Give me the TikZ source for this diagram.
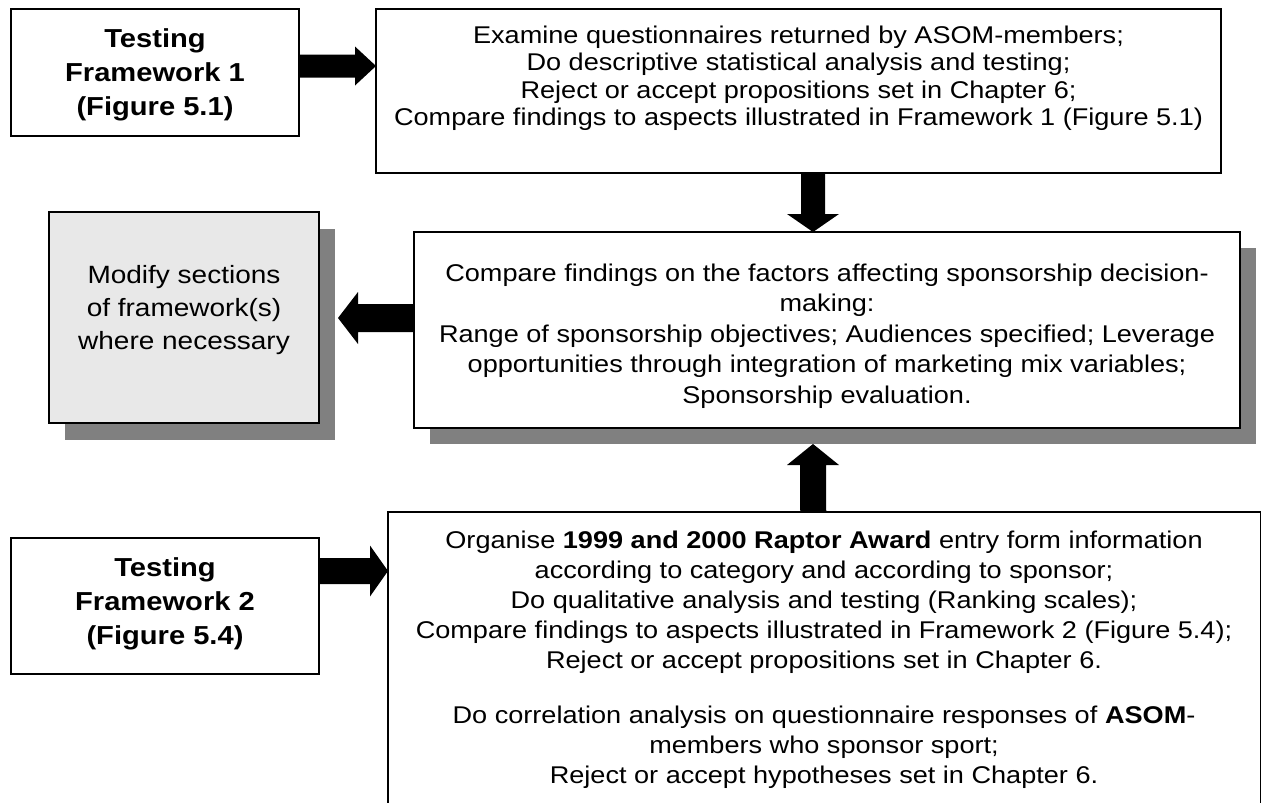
\documentclass[tikz,border=0pt]{standalone}
\usepackage{fontspec}
\setmainfont[FakeStretch=1.12]{Liberation Sans}
\usetikzlibrary{calc}
\begin{document}
\begin{tikzpicture}[x=1pt,y=-1pt,
  box/.style={draw=black,line width=2pt,fill=white,inner sep=0pt,outer sep=0pt,anchor=north west},
  graybox/.style={box,fill=black!9},
  shadowbox/.style={fill=black!50,draw=none,inner sep=0pt,outer sep=0pt,anchor=north west},
  txt/.style={align=center,inner sep=0pt,font=\fontsize{24.2}{#1}\selectfont},
  txt/.default=30.5,
  boldtxt/.style={align=center,inner sep=0pt,font=\fontsize{26}{34}\selectfont\bfseries},
  blk/.style={fill=black,draw=none}]
\useasboundingbox[fill=white] (0,0) rectangle (1261,803);

% shadows behind the two central boxes
\node[shadowbox,minimum width=270pt,minimum height=211pt] (grayshadow) at (65,229) {};
\node[shadowbox,minimum width=826pt,minimum height=196pt] (midshadow) at (430,248) {};

% boxes
\node[box,minimum width=288pt,minimum height=127pt] (b1) at (11,9) {};
\node[box,minimum width=845pt,minimum height=164pt] (top) at (376,9) {};
\node[graybox,minimum width=270pt,minimum height=211pt] (gray) at (49,212) {};
\node[box,minimum width=826pt,minimum height=196pt] (mid) at (414,232) {};
\node[box,minimum width=308pt,minimum height=136pt] (b2) at (11,538) {};
\node[box,minimum width=872.5pt,minimum height=330pt] (bot) at (388,512) {};

% texts
\node[boldtxt] (b1text) at (155,75) {Testing\\Framework 1\\(Figure 5.1)};
\node[boldtxt] (b2text) at (165,604) {Testing\\Framework 2\\(Figure 5.4)};
\node[txt=27.5] (toptext) at (798.5,78) {Examine questionnaires returned by ASOM-members;\\
  Do descriptive statistical analysis and testing;\\
  Reject or accept propositions set in Chapter 6;\\
  Compare findings to aspects illustrated in Framework 1 (Figure 5.1)};
\node[align=center,inner sep=0pt,font=\fontsize{25}{33}\selectfont] (graytext) at (184,310)
  {Modify sections\\of framework(s)\\where necessary};
\node[txt] (midtext) at (827,336) {Compare findings on the factors affecting sponsorship decision-\\
  making:\\
  Range of sponsorship objectives; Audiences specified; Leverage\\
  opportunities through integration of marketing mix variables;\\
  Sponsorship evaluation.};
\node[txt=30] (bottext) at (824,660) {Organise \textbf{1999 and 2000 Raptor Award} entry form information\\
  according to category and according to sponsor;\\
  Do qualitative analysis and testing (Ranking scales);\\
  Compare findings to aspects illustrated in Framework 2 (Figure 5.4);\\
  Reject or accept propositions set in Chapter 6.\\[25pt]
  Do correlation analysis on questionnaire responses of \textbf{ASOM}-\\
  members who sponsor sport;\\
  Reject or accept hypotheses set in Chapter 6.};

% block arrows: start point on one box, tip on the other
\coordinate (a1s) at ($(b1.east)+(0,-6.5)$);
\coordinate (a1t) at ($(top.west)+(0,-25)$);
\fill[blk] ($(a1s)+(0,-11.5)$) -- ($(a1t)+(-21,-11.5)$) -- ($(a1t)+(-21,-19.5)$) -- (a1t)
  -- ($(a1t)+(-21,19.5)$) -- ($(a1t)+(-21,11.5)$) -- ($(a1s)+(0,11.5)$) -- cycle;

\coordinate (a2s) at ($(top.south)+(14.5,0)$);
\coordinate (a2t) at ($(mid.north)+(-14,0)$);
\fill[blk] ($(a2s)+(-12,0)$) -- ($(a2t)+(-12,-18)$) -- ($(a2t)+(-26,-18)$) -- (a2t)
  -- ($(a2t)+(26,-18)$) -- ($(a2t)+(12,-18)$) -- ($(a2s)+(12,0)$) -- cycle;

\coordinate (a3s) at ($(mid.west)+(0,-12)$);
\coordinate (a3t) at ($(gray.east)+(19,0.5)$);
\fill[blk] ($(a3s)+(0,-14)$) -- ($(a3t)+(20,-14)$) -- ($(a3t)+(20,-26)$) -- (a3t)
  -- ($(a3t)+(20,26)$) -- ($(a3t)+(20,14)$) -- ($(a3s)+(0,14)$) -- cycle;

\coordinate (a4s) at ($(bot.north)+(-11,0)$);
\coordinate (a4t) at ($(mid.south)+(-14,16)$);
\fill[blk] ($(a4s)+(-13,0)$) -- ($(a4t)+(-13,21)$) -- ($(a4t)+(-26,21)$) -- (a4t)
  -- ($(a4t)+(26,21)$) -- ($(a4t)+(13,21)$) -- ($(a4s)+(13,0)$) -- cycle;

\coordinate (a5s) at ($(b2.east)+(0,-35)$);
\coordinate (a5t) at ($(bot.west)+(0,-106)$);
\fill[blk] ($(a5s)+(0,-13)$) -- ($(a5t)+(-18,-13)$) -- ($(a5t)+(-18,-25.5)$) -- (a5t)
  -- ($(a5t)+(-18,25.5)$) -- ($(a5t)+(-18,13)$) -- ($(a5s)+(0,13)$) -- cycle;
\end{tikzpicture}
\end{document}
